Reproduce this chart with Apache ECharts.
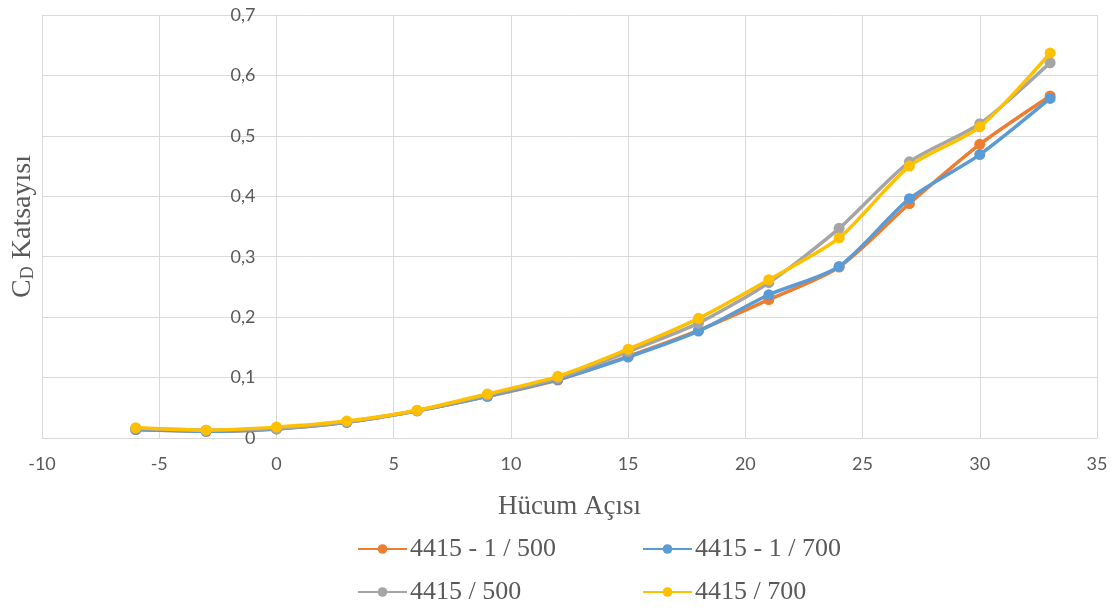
<!DOCTYPE html>
<html>
<head>
<meta charset="utf-8">
<script src="https://cdn.jsdelivr.net/npm/echarts@6/dist/echarts.min.js"></script>
<style>html,body{margin:0;padding:0;background:#fff}#c{width:1115px;height:610px}</style>
</head>
<body>
<div id="c"></div>
<script>
const angles = [-6, -3, 0, 3, 6, 9, 12, 15, 18, 21, 24, 27, 30, 33];
const s1_500 = [0.014, 0.011, 0.015, 0.026, 0.045, 0.069, 0.096, 0.135, 0.178, 0.229, 0.283, 0.388, 0.486, 0.566];
const s1_700 = [0.014, 0.011, 0.015, 0.026, 0.045, 0.069, 0.097, 0.134, 0.177, 0.237, 0.284, 0.396, 0.469, 0.562];
const s_500  = [0.016, 0.013, 0.016, 0.027, 0.045, 0.071, 0.099, 0.143, 0.190, 0.257, 0.347, 0.457, 0.520, 0.621];
const s_700  = [0.017, 0.013, 0.018, 0.028, 0.046, 0.073, 0.102, 0.147, 0.198, 0.262, 0.331, 0.450, 0.515, 0.637];
const seriesNames = ['4415 - 1 / 500', '4415 - 1 / 700', '4415 / 500', '4415 / 700'];
const seriesColors = ['#ED7D31', '#5B9BD5', '#A5A5A5', '#FFC000'];
const yTickLabels = ['0', '0,1', '0,2', '0,3', '0,4', '0,5', '0,6', '0,7'];
const xTickLabels = ['-10', '-5', '0', '5', '10', '15', '20', '25', '30', '35'];

const allData = [s1_500, s1_700, s_500, s_700];
const chart = echarts.init(document.getElementById('c'), null, {renderer: 'canvas'});
const serif = '"Liberation Serif", "Times New Roman", serif';
const sans = 'Lato, "Liberation Sans", sans-serif';

const series = allData.map((vals, i) => ({
  name: seriesNames[i],
  type: 'line',
  smooth: 0.25,
  data: angles.map((a, j) => [a, vals[j]]),
  symbol: 'circle',
  symbolSize: 11,
  lineStyle: {width: 3.5, color: seriesColors[i]},
  itemStyle: {color: seriesColors[i]},
  z: 2 + i
}));

const legendPos = [
  {left: 357, top: 536}, {left: 642, top: 536},
  {left: 357, top: 579}, {left: 642, top: 579}
];
const legends = seriesNames.map((n, i) => ({
  data: [n],
  left: legendPos[i].left,
  top: legendPos[i].top,
  itemWidth: 49,
  itemHeight: 12,
  itemGap: 0,
  padding: 0,
  textStyle: {fontFamily: serif, fontSize: 26, color: '#595959', padding: [0, 0, 0, -2]}
}));

const GRID_LEFT = 42;
chart.setOption({
  animation: false,
  backgroundColor: '#fff',
  grid: {left: GRID_LEFT, right: 18, top: 15, bottom: 172, containLabel: false, outerBoundsMode: 'none'},
  legend: legends,
  xAxis: {
    type: 'value',
    min: -10, max: 35, interval: 5,
    name: 'Hücum Açısı',
    nameLocation: 'middle',
    nameGap: 55,
    nameTextStyle: {fontFamily: serif, fontSize: 27, color: '#595959'},
    axisLine: {show: true, onZero: false, lineStyle: {color: '#d9d9d9', width: 1}},
    axisTick: {show: false},
    axisLabel: {
      margin: 17, fontFamily: sans, fontSize: 18, color: '#595959',
      formatter: (v) => xTickLabels[Math.round((v + 10) / 5)]
    },
    splitLine: {show: true, lineStyle: {color: '#d9d9d9', width: 1}}
  },
  yAxis: {
    type: 'value',
    position: 'left',
    min: 0, max: 0.7, interval: 0.1,
    name: '{c|C}{s|D}{c| Katsayısı}',
    nameLocation: 'middle',
    nameGap: 239,
    nameRotate: 90,
    nameTextStyle: {
      rich: {
        c: {fontFamily: serif, fontSize: 28, color: '#595959'},
        s: {fontFamily: serif, fontSize: 18, color: '#595959', padding: [12, 0, 0, 0]}
      }
    },
    axisLine: {show: true, onZero: false, lineStyle: {color: '#d9d9d9', width: 1}},
    axisTick: {show: false},
    axisLabel: {
      margin: 21, fontFamily: sans, fontSize: 18, color: '#595959',
      formatter: (v) => yTickLabels[Math.round(v * 10)]
    },
    splitLine: {show: true, lineStyle: {color: '#d9d9d9', width: 1}}
  },
  series: series
});
// Place the y axis where x = 0 (as in the reference), using the library's own scale
const zeroPx = chart.convertToPixel({gridIndex: 0}, [0, 0])[0];
chart.setOption({yAxis: {offset: -(zeroPx - GRID_LEFT)}});
</script>
</body>
</html>
